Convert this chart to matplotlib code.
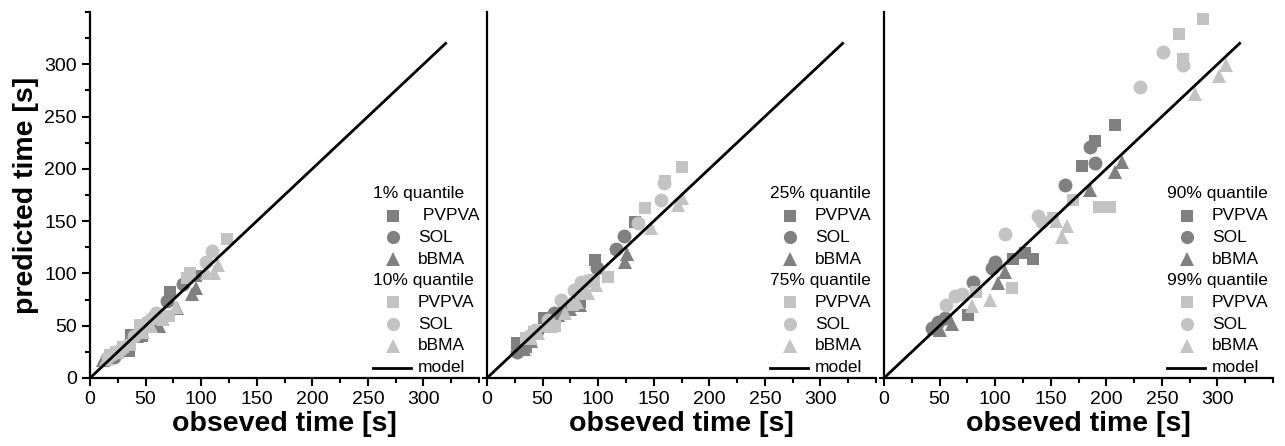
import matplotlib.pyplot as plt
from matplotlib.ticker import MultipleLocator

plt.rcParams['font.family'] = ['Liberation Sans', 'DejaVu Sans']

DARK = '#808080'
LIGHT = '#c3c3c3'

# ---- panel 1 : 1% / 10% quantile ----
p1_lo_pvpva_x = [20, 35, 37, 47, 57, 65, 72, 95]
p1_lo_pvpva_y = [20, 26, 41, 40, 52, 55, 82, 98]
p1_lo_sol_x = [15, 22, 30, 45, 55, 69, 84]
p1_lo_sol_y = [18, 20, 28, 45, 55, 74, 90]
p1_lo_bbma_x = [12, 18, 28, 42, 62, 78, 92, 95]
p1_lo_bbma_y = [17, 20, 27, 40, 50, 67, 80, 86]
p1_hi_pvpva_x = [18, 23, 30, 36, 45, 60, 71, 87, 90, 123]
p1_hi_pvpva_y = [22, 25, 30, 32, 51, 58, 59, 96, 100, 133]
p1_hi_sol_x = [16, 22, 28, 40, 51, 56, 59, 65, 104, 110]
p1_hi_sol_y = [20, 24, 28, 40, 54, 57, 62, 60, 111, 121]
p1_hi_bbma_x = [14, 25, 35, 48, 55, 66, 77, 105, 112, 115]
p1_hi_bbma_y = [18, 25, 33, 44, 50, 56, 68, 100, 100, 108]

# ---- panel 2 : 25% / 75% quantile ----
p2_lo_pvpva_x = [27, 35, 51, 60, 69, 84, 97, 133]
p2_lo_pvpva_y = [33, 30, 57, 55, 63, 73, 113, 149]
p2_lo_sol_x = [27, 28, 45, 60, 72, 99, 116, 123]
p2_lo_sol_y = [25, 30, 45, 62, 68, 105, 123, 136]
p2_lo_bbma_x = [33, 40, 55, 64, 75, 84, 124, 126]
p2_lo_bbma_y = [28, 35, 50, 60, 66, 70, 111, 119]
p2_hi_pvpva_x = [35, 42, 55, 61, 77, 86, 96, 109, 142, 160, 175]
p2_hi_pvpva_y = [38, 44, 50, 50, 70, 80, 94, 97, 163, 188, 202]
p2_hi_sol_x = [38, 43, 55, 67, 78, 85, 90, 136, 157, 159]
p2_hi_sol_y = [40, 46, 55, 75, 84, 92, 93, 148, 170, 186]
p2_hi_bbma_x = [40, 46, 58, 70, 81, 91, 98, 148, 172, 175]
p2_hi_bbma_y = [38, 43, 50, 62, 73, 81, 89, 143, 165, 172]

# ---- panel 3 : 90% / 99% quantile ----
p3_lo_pvpva_x = [76, 116, 127, 134, 178, 190, 208]
p3_lo_pvpva_y = [60, 114, 120, 114, 203, 227, 242]
p3_lo_sol_x = [43, 49, 55, 80, 97, 100, 163, 185, 190]
p3_lo_sol_y = [48, 54, 57, 92, 105, 111, 185, 221, 206]
p3_lo_bbma_x = [45, 50, 61, 103, 109, 185, 208, 214]
p3_lo_bbma_y = [48, 46, 52, 91, 101, 180, 197, 207]
p3_hi_pvpva_x = [83, 115, 152, 170, 193, 203, 265, 269, 287]
p3_hi_pvpva_y = [82, 86, 153, 170, 164, 164, 329, 305, 343]
p3_hi_sol_x = [56, 64, 70, 109, 139, 142, 230, 251, 269]
p3_hi_sol_y = [70, 78, 80, 138, 155, 149, 278, 312, 299]
p3_hi_bbma_x = [79, 95, 155, 160, 165, 280, 301, 308]
p3_hi_bbma_y = [69, 75, 150, 135, 145, 272, 289, 299]

quantile_labels = [('1% quantile', '10% quantile'),
                   ('25% quantile', '75% quantile'),
                   ('90% quantile', '99% quantile')]
material_labels = ['PVPVA', 'SOL', 'bBMA']
model_x = [0, 320]
model_y = [0, 320]

panels = [
    [(p1_lo_pvpva_x, p1_lo_pvpva_y), (p1_lo_sol_x, p1_lo_sol_y), (p1_lo_bbma_x, p1_lo_bbma_y),
     (p1_hi_pvpva_x, p1_hi_pvpva_y), (p1_hi_sol_x, p1_hi_sol_y), (p1_hi_bbma_x, p1_hi_bbma_y)],
    [(p2_lo_pvpva_x, p2_lo_pvpva_y), (p2_lo_sol_x, p2_lo_sol_y), (p2_lo_bbma_x, p2_lo_bbma_y),
     (p2_hi_pvpva_x, p2_hi_pvpva_y), (p2_hi_sol_x, p2_hi_sol_y), (p2_hi_bbma_x, p2_hi_bbma_y)],
    [(p3_lo_pvpva_x, p3_lo_pvpva_y), (p3_lo_sol_x, p3_lo_sol_y), (p3_lo_bbma_x, p3_lo_bbma_y),
     (p3_hi_pvpva_x, p3_hi_pvpva_y), (p3_hi_sol_x, p3_hi_sol_y), (p3_hi_bbma_x, p3_hi_bbma_y)],
]

markers = ['s', 'o', '^']
msizes = {'s': 9, 'o': 10, '^': 10.5}

fig = plt.figure(figsize=(12.85, 4.46), dpi=100)
lefts = [90 / 1285, 487 / 1285, 884 / 1285]
w = 389 / 1285
bottom = 1 - 378 / 446
h = 366 / 446

for i, series in enumerate(panels):
    ax = fig.add_axes([lefts[i], bottom, w, h])
    for j, (xs, ys) in enumerate(series):
        col = DARK if j < 3 else LIGHT
        m = markers[j % 3]
        ax.plot(xs, ys, linestyle='none', marker=m, ms=msizes[m], color=col,
                markeredgewidth=0)
    ax.plot(model_x, model_y, color='black', lw=2)

    ax.set_xlim(0, 350)
    ax.set_ylim(0, 350)
    ax.spines['top'].set_visible(False)
    ax.spines['right'].set_visible(False)
    ax.spines['left'].set_linewidth(1.6)
    ax.spines['bottom'].set_linewidth(1.6)
    ax.xaxis.set_major_locator(MultipleLocator(50))
    ax.xaxis.set_minor_locator(MultipleLocator(25))
    ax.yaxis.set_major_locator(MultipleLocator(50))
    ax.yaxis.set_minor_locator(MultipleLocator(25))
    ax.set_xticks([0, 50, 100, 150, 200, 250, 300])
    ax.tick_params(which='major', length=6, width=1.5, labelsize=14, direction='out')
    ax.tick_params(which='minor', length=3.5, width=1.5, direction='out')
    if i == 0:
        ax.set_yticks([0, 50, 100, 150, 200, 250, 300])
        ax.set_ylabel('predicted time [s]', fontsize=20.5, fontweight='bold', labelpad=4)
    else:
        ax.set_yticks([])
        ax.yaxis.set_minor_locator(MultipleLocator(1000))
    ax.set_xlabel('obseved time [s]', fontsize=20.5, fontweight='bold', labelpad=2)

    # hand-made legend
    xh, xm, xl = 0.728, 0.778, 0.843
    y0, dy = 0.503, 0.0593
    row = 0
    for k in range(2):
        ax.text(xh, y0 - row * dy, quantile_labels[i][k], transform=ax.transAxes,
                fontsize=12.5, va='center', ha='left')
        row += 1
        col = DARK if k == 0 else LIGHT
        for n in range(3):
            m = markers[n]
            ax.plot([xm], [y0 - row * dy], transform=ax.transAxes, linestyle='none',
                    marker=m, ms=msizes[m] * 0.95, color=col, markeredgewidth=0,
                    clip_on=False)
            lab = material_labels[n]
            if i == 0 and k == 0 and n == 0:
                lab = ' ' + lab
            ax.text(xl, y0 - row * dy, lab, transform=ax.transAxes,
                    fontsize=12.5, va='center', ha='left')
            row += 1
    ax.plot([xh, 0.825], [y0 - row * dy] * 2, transform=ax.transAxes,
            color='black', lw=2, clip_on=False)
    ax.text(xl, y0 - row * dy, 'model', transform=ax.transAxes,
            fontsize=12.5, va='center', ha='left')

fig.savefig('out.png', dpi=100)
